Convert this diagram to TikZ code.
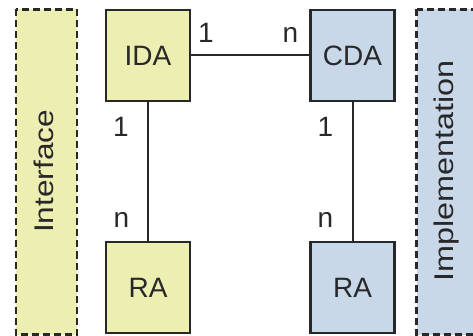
\documentclass[tikz,border=0pt]{standalone}
\usepackage{fontspec}
\usepackage{graphicx}
\setmainfont{Liberation Sans}
\definecolor{yel}{RGB}{237,239,178}
\definecolor{blu}{RGB}{201,216,233}
\definecolor{ink}{RGB}{40,40,40}
\tikzset{
  box/.style={draw=ink, line width=2.6pt, minimum width=84pt, minimum height=91pt, inner sep=0pt, font=\fontsize{28}{32}\selectfont, text=ink},
  yelbox/.style={box, fill=yel},
  blubox/.style={box, fill=blu},
  layer/.style={draw=ink, line width=2.2pt, dash pattern=on 7pt off 4pt},
  conn/.style={draw=ink, line width=2pt},
  card/.style={anchor=base, inner sep=0pt, font=\fontsize{28}{32}\selectfont, text=ink},
  vlabel/.style={anchor=base, rotate=90, inner sep=0pt, font=\fontsize{27}{32}\selectfont, text=ink}
}
\begin{document}
\begin{tikzpicture}[x=1pt,y=1pt]
\useasboundingbox (0,0) rectangle (473,-336);
\begin{scope}
\clip (0,0) rectangle (473,-336);
\fill[white] (0,0) rectangle (473,-336);
% layers
\draw[layer, fill=yel] (16,-9.5) rectangle (77,-334.5);
\draw[layer, fill=blu] (416.5,-9.5) rectangle (540,-334.5);
\end{scope}
\node[vlabel] (iface) at (53,-171.5) {\scalebox{1.17}[1]{Interface}};
\node[vlabel] (impl) at (453,-171) {\scalebox{1.2}[1]{Implementation}};
% boxes
\node[yelbox] (ida) at (148,-55.5) {IDA};
\node[blubox] (cda) at (352.5,-55.5) {CDA};
\node[yelbox] (ra1) at (148,-287.5) {RA};
\node[blubox] (ra2) at (352.5,-287.5) {RA};
% connectors
\draw[conn] (ida.east) -- (cda.west);
\draw[conn] (ida.south) -- (ra1.north);
\draw[conn] (cda.south) -- (ra2.north);
% cardinalities
\node[card] (c1) at (206,-43) {1};
\node[card] (c2) at (290.5,-43) {n};
\node[card] (c3) at (121,-137) {1};
\node[card] (c4) at (121.5,-228) {n};
\node[card] (c5) at (325.5,-137) {1};
\node[card] (c6) at (325.5,-228) {n};
\end{tikzpicture}
\end{document}
